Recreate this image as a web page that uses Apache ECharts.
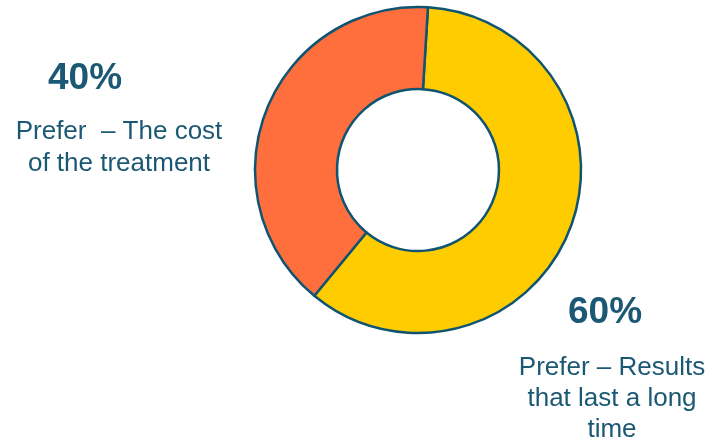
<!DOCTYPE html>
<html>
<head>
<meta charset="utf-8">
<script src="https://cdn.jsdelivr.net/npm/echarts@6/dist/echarts.min.js"></script>
<style>
  html, body { margin: 0; padding: 0; background: #fff; }
  #chart { width: 712px; height: 443px; }
</style>
</head>
<body>
<div id="chart"></div>
<script>
// data
const categories = ['Results that last a long time', 'The cost of the treatment'];
const values = [60, 40];
const labelLines = [
  ['Prefer – Results', 'that last a long', 'time'],
  ['Prefer  – The cost', 'of the treatment']
];

const sliceColors = ['#FFCC00', '#FF6F3D'];
const textColor = '#1B5873';
const total = values.reduce((a, b) => a + b, 0);

// where each label block sits (percent line, then description lines)
const blocks = [
  { pctX: 605, pctY: 313, x: 612, y: 368, step: 31 },
  { pctX: 85, pctY: 79, x: 119, y: 132, step: 32 }
];

const graphics = [];
values.forEach((v, i) => {
  const b = blocks[i];
  graphics.push({
    type: 'text', x: b.pctX, y: b.pctY,
    style: {
      text: Math.round(v / total * 100) + '%',
      fill: textColor, font: 'bold 37px "Liberation Sans", Arial, sans-serif',
      textAlign: 'center', textVerticalAlign: 'middle'
    }
  });
  labelLines[i].forEach((line, j) => {
    graphics.push({
      type: 'text', x: b.x, y: b.y + j * b.step,
      style: {
        text: line, fill: textColor,
        font: '26px "Liberation Sans", Arial, sans-serif',
        textAlign: 'center', textVerticalAlign: 'middle'
      }
    });
  });
});

const chart = echarts.init(document.getElementById('chart'));
chart.setOption({
  animation: false,
  graphic: graphics,
  series: [{
    type: 'pie',
    center: [418, 170],
    radius: [81, 163],
    startAngle: 86.5,
    clockwise: true,
    label: { show: false },
    labelLine: { show: false },
    emphasis: { disabled: true },
    itemStyle: { borderColor: '#0F5470', borderWidth: 2.5 },
    data: categories.map((c, i) => ({
      name: c, value: values[i], itemStyle: { color: sliceColors[i] }
    }))
  }]
});
</script>
</body>
</html>
